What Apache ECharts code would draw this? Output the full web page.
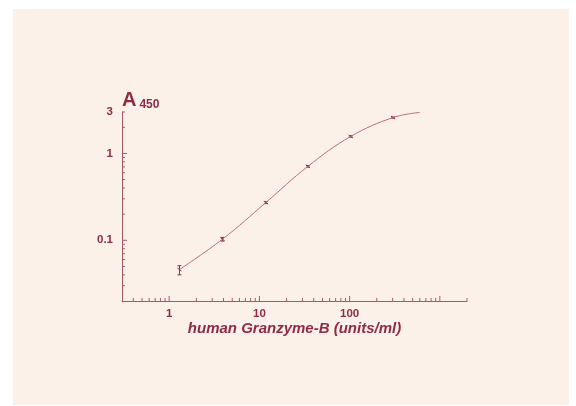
<!DOCTYPE html>
<html>
<head>
<meta charset="utf-8">
<script src="https://cdn.jsdelivr.net/npm/echarts@6/dist/echarts.min.js"></script>
<style>
  html, body { margin: 0; padding: 0; background: #ffffff; }
  #chart { position: absolute; left: 13px; top: 9px; width: 556px; height: 396px; background: #fcf1e8; }
</style>
</head>
<body>
<div id="chart"></div>
<script>
// standards: concentration (units/ml) and A450 with error range
const concentration = [1.3, 3.9, 11.8, 34.5, 103, 303]
const absorbance = [0.046, 0.103, 0.272, 0.71, 1.57, 2.59]
const absLow = [0.040, 0.098, 0.265, 0.695, 1.54, 2.55]
const absHigh = [0.051, 0.108, 0.279, 0.725, 1.60, 2.63]

// fitted curve
const curveX = [1.3, 3.9, 11.8, 34.5, 103, 303, 600]
const curveY = [0.046, 0.103, 0.272, 0.71, 1.57, 2.59, 2.97]

// axis ticks
const xMajorTicks = [1, 10, 100, 1000]
const xMinorTicks = [0.4, 0.5, 0.6, 0.7, 0.8, 0.9, 2, 3, 4, 5, 6, 7, 8, 9,
  20, 30, 40, 50, 60, 70, 80, 90, 200, 300, 400, 500, 600, 700, 800, 900, 2000]
const yMajorTicks = [0.1, 1]
const yMinorTicks = [0.03, 0.04, 0.05, 0.06, 0.07, 0.08, 0.09,
  0.2, 0.3, 0.4, 0.5, 0.6, 0.7, 0.8, 0.9, 2, 3]
const xLabels = [1, 10, 100]
const yLabels = [0.1, 1, 3]

const X_MIN = 0.3
const X_MAX = 2000
const Y_MIN = 0.02
const Y_MAX = 3

const textColor = '#8e2b48'
const axisColor = '#a8566a'
const curveColor = '#b96c7b'

const chart = echarts.init(document.getElementById('chart'))

const round = (v) => Number(Number(v).toPrecision(3))

const tickSeries = (name, values, isX, len) => ({
  name: name,
  type: 'custom',
  silent: true,
  clip: false,
  data: values.map((v) => isX ? [v, Y_MIN] : [X_MIN, v]),
  renderItem: function (params, api) {
    const p = api.coord([api.value(0), api.value(1)])
    const shape = isX
      ? { x1: p[0], y1: p[1], x2: p[0], y2: p[1] - len }
      : { x1: p[0], y1: p[1], x2: p[0] + len, y2: p[1] }
    return { type: 'line', shape: shape, style: { stroke: axisColor, lineWidth: 1 } }
  }
})

chart.setOption({
  animation: false,
  title: {
    text: '{a|A}{s|450}',
    left: 104,
    top: 76,
    textStyle: {
      rich: {
        a: { fontFamily: 'Liberation Sans', fontWeight: 'bold', fontSize: 20, color: textColor },
        s: { fontFamily: 'Liberation Sans', fontWeight: 'bold', fontSize: 12, color: textColor, padding: [9, 0, 0, 3] }
      }
    }
  },
  grid: { left: 109, top: 103, right: 102, bottom: 104 },
  xAxis: {
    type: 'log',
    logBase: 10,
    min: X_MIN,
    max: X_MAX,
    name: 'human Granzyme-B (units/ml)',
    nameLocation: 'middle',
    nameGap: 18,
    nameTextStyle: { fontFamily: 'Liberation Sans', fontWeight: 'bold', fontStyle: 'italic', fontSize: 15, color: textColor },
    axisLine: { show: true, lineStyle: { color: axisColor, width: 1 } },
    axisTick: { show: false },
    splitLine: { show: false },
    axisLabel: {
      margin: 7,
      color: textColor,
      fontFamily: 'Liberation Sans',
      fontWeight: 'bold',
      fontSize: 11.5,
      formatter: (v) => xLabels.includes(round(v)) ? String(round(v)) : ''
    }
  },
  yAxis: {
    type: 'log',
    logBase: 10,
    min: Y_MIN,
    max: Y_MAX,
    axisLine: { show: true, lineStyle: { color: axisColor, width: 1 } },
    axisTick: { show: false },
    splitLine: { show: false },
    axisLabel: {
      margin: 9,
      color: textColor,
      fontFamily: 'Liberation Sans',
      fontWeight: 'bold',
      fontSize: 11.5,
      showMaxLabel: true,
      formatter: (v) => yLabels.includes(round(v)) ? String(round(v)) : ''
    }
  },
  series: [
    tickSeries('xMajor', xMajorTicks, true, 5),
    tickSeries('xMinor', xMinorTicks, true, 3),
    tickSeries('yMajor', yMajorTicks, false, 5),
    tickSeries('yMinor', yMinorTicks, false, 3),
    {
      name: 'curve',
      type: 'line',
      smooth: 0.4,
      showSymbol: false,
      silent: true,
      lineStyle: { color: curveColor, width: 1 },
      data: curveX.map((x, i) => [x, curveY[i]])
    },
    {
      name: 'standards',
      type: 'custom',
      silent: true,
      data: concentration.map((x, i) => [x, absorbance[i], absLow[i], absHigh[i]]),
      renderItem: function (params, api) {
        const p = api.coord([api.value(0), api.value(1)])
        const lo = api.coord([api.value(0), api.value(2)])
        const hi = api.coord([api.value(0), api.value(3)])
        const st = { stroke: textColor, lineWidth: 1 }
        return {
          type: 'group',
          children: [
            { type: 'line', shape: { x1: p[0], y1: lo[1], x2: p[0], y2: hi[1] }, style: st },
            { type: 'line', shape: { x1: p[0] - 2, y1: lo[1], x2: p[0] + 2, y2: lo[1] }, style: st },
            { type: 'line', shape: { x1: p[0] - 2, y1: hi[1], x2: p[0] + 2, y2: hi[1] }, style: st },
            { type: 'line', shape: { x1: p[0] - 2, y1: p[1] - 1.5, x2: p[0] + 2, y2: p[1] + 1.5 }, style: st }
          ]
        }
      }
    }
  ]
})
</script>
</body>
</html>
